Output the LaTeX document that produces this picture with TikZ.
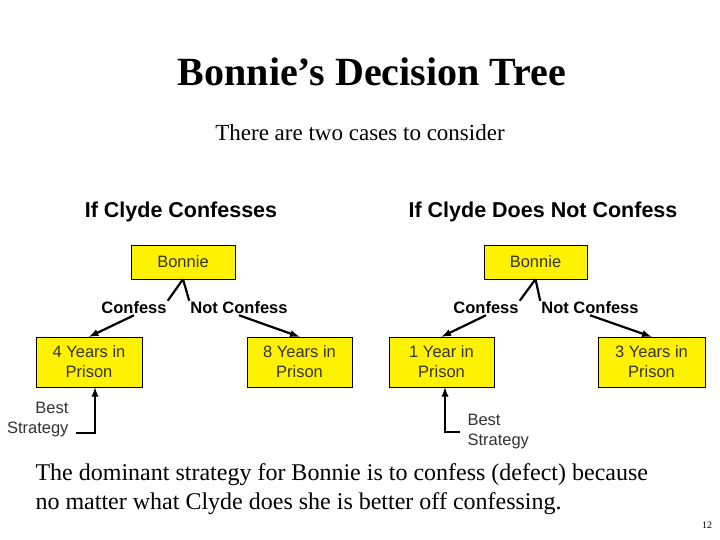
\documentclass[tikz,border=0pt]{standalone}
\usepackage{fontspec}
\setmainfont{Liberation Serif}
\newfontfamily\arial{Liberation Sans}
\begin{document}
\begin{tikzpicture}[x=1pt,y=-1pt,
  ybox/.style={draw,fill=yellow,inner sep=0pt,font=\arial\fontsize{16.5}{20}\selectfont,align=center,text=black!80},
  lab/.style={font=\arial\bfseries\fontsize{16.5}{20}\selectfont,inner sep=1pt},
  con/.style={line width=2.2pt},
  arr/.style={line width=2.2pt,-latex}]
\useasboundingbox (0,0) rectangle (720,540);
\node[font=\bfseries\fontsize{40}{46}\selectfont] (t) at (372,72) {Bonnie’s Decision Tree};
\node[font=\fontsize{23}{27}\selectfont] (s) at (360,133) {There are two cases to consider};
\node[font=\arial\bfseries\fontsize{21.5}{25}\selectfont] (h1) at (181,212) {If Clyde Confesses};
\node[font=\arial\bfseries\fontsize{21.5}{25}\selectfont] (h2) at (543,212) {If Clyde Does Not Confess};
% left tree
\node[ybox,minimum width=104,minimum height=34] (b1) at (183,262) {Bonnie};
\node[lab] (c1) at (134,308) {Confess};
\node[lab] (n1) at (239,308) {Not Confess};
\node[ybox,minimum width=106,minimum height=50] (y4) at (89,362) {4 Years in\\Prison};
\node[ybox,minimum width=105,minimum height=50] (y8) at (299.5,362) {8 Years in\\Prison};
\draw[con] (b1.south) -- (c1.north east);
\draw[con] (b1.south) -- (n1.north west);
\draw[arr] (c1.south) -- (y4.north);
\draw[arr] (n1.south) -- (y8.north);
\node[font=\arial\fontsize{16.5}{20}\selectfont,align=right,anchor=east,text=black!80] (bs1) at (72,420) {Best\\Strategy};
\coordinate (k1) at (95,433);
\draw[arr] (bs1.east|-k1) ++(4,0) -- (k1) -- (y4.south-|k1);
% right tree
\node[ybox,minimum width=103,minimum height=34] (b2) at (535.5,262) {Bonnie};
\node[lab] (c2) at (486,308) {Confess};
\node[lab] (n2) at (590,308) {Not Confess};
\node[ybox,minimum width=105,minimum height=50] (y1) at (441.5,362) {1 Year in\\Prison};
\node[ybox,minimum width=107,minimum height=50] (y3) at (651.5,362) {3 Years in\\Prison};
\draw[con] (b2.south) -- (c2.north east);
\draw[con] (b2.south) -- (n2.north west);
\draw[arr] (c2.south) -- (y1.north);
\draw[arr] (n2.south) -- (y3.north);
\node[font=\arial\fontsize{16.5}{20}\selectfont,align=left,anchor=west,text=black!80] (bs2) at (464,432) {Best\\Strategy};
\coordinate (k2) at (445,432);
\draw[arr] (bs2.west|-k2) ++(-4,0) -- (k2) -- (y1.south-|k2);
\node[font=\fontsize{24}{29}\selectfont,align=left,anchor=north west] (bt) at (32,460) {The dominant strategy for Bonnie is to confess (defect) because\\no matter what Clyde does she is better off confessing.};
\node[font=\fontsize{10}{12}\selectfont] (pg) at (707,525) {12};
\end{tikzpicture}
\end{document}
